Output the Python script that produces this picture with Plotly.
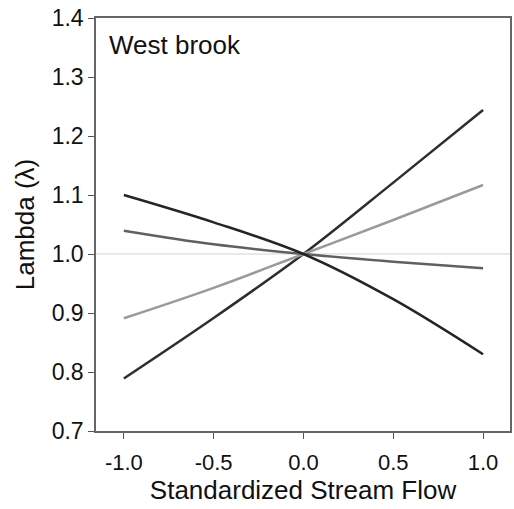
import plotly.graph_objects as go

flow = [-1.0, -0.5, 0.0, 0.5, 1.0]
dark_up = [0.789, 0.8915, 1.0, 1.121, 1.244]
light_up = [0.891, 0.9426, 1.0, 1.0576, 1.117]
medium_down = [1.0395, 1.0164, 1.0, 0.987, 0.976]
dark_down = [1.100, 1.0537, 1.0, 0.9234, 0.830]

series = [
    (dark_up, "#2e2e2e"),
    (light_up, "#9a9a9a"),
    (medium_down, "#606060"),
    (dark_down, "#252525"),
]

FONT = "Liberation Sans, Arial, sans-serif"

fig = go.Figure()
fig.add_shape(type="line", xref="paper", x0=0, x1=1, yref="y", y0=1.0, y1=1.0,
              line=dict(color="#d4d4d4", width=1.2), layer="below")
for ys, col in series:
    fig.add_trace(go.Scatter(x=flow, y=ys, mode="lines", line=dict(color=col, width=2.5, shape="spline"),
                             showlegend=False))

fig.add_annotation(text="West brook", x=0.026, y=0.935, xref="paper", yref="paper",
                   xanchor="left", yanchor="middle", showarrow=False,
                   font=dict(size=26, color="#111111", family=FONT))

fig.update_layout(
    width=514, height=509,
    margin=dict(l=96, r=2, t=18, b=78),
    paper_bgcolor="white", plot_bgcolor="white",
    font=dict(family=FONT, color="#111111"),
)
fig.update_xaxes(
    range=[-1.155, 1.15], tickvals=[-1.0, -0.5, 0.0, 0.5, 1.0], ticktext=["-1.0", "-0.5", "0.0", "0.5", "1.0"],
    ticks="outside", ticklen=6, tickcolor="#555555", tickwidth=1.2, ticklabelstandoff=5,
    showline=True, linecolor="#666666", linewidth=1.5, mirror=True, showgrid=False, zeroline=False,
    tickfont=dict(size=22), title=dict(text="Standardized Stream Flow", font=dict(size=26), standoff=7),
)
fig.update_yaxes(
    range=[0.7, 1.4], tickvals=[0.7, 0.8, 0.9, 1.0, 1.1, 1.2, 1.3, 1.4],
    ticktext=["0.7", "0.8", "0.9", "1.0", "1.1", "1.2", "1.3", "1.4"],
    ticks="outside", ticklen=6, tickcolor="#555555", tickwidth=1.2,
    showline=True, linecolor="#666666", linewidth=1.5, mirror=True, showgrid=False, zeroline=False,
    tickfont=dict(size=23), title=dict(text="Lambda (λ)", font=dict(size=26), standoff=10),
)

fig.write_html("out.html")
